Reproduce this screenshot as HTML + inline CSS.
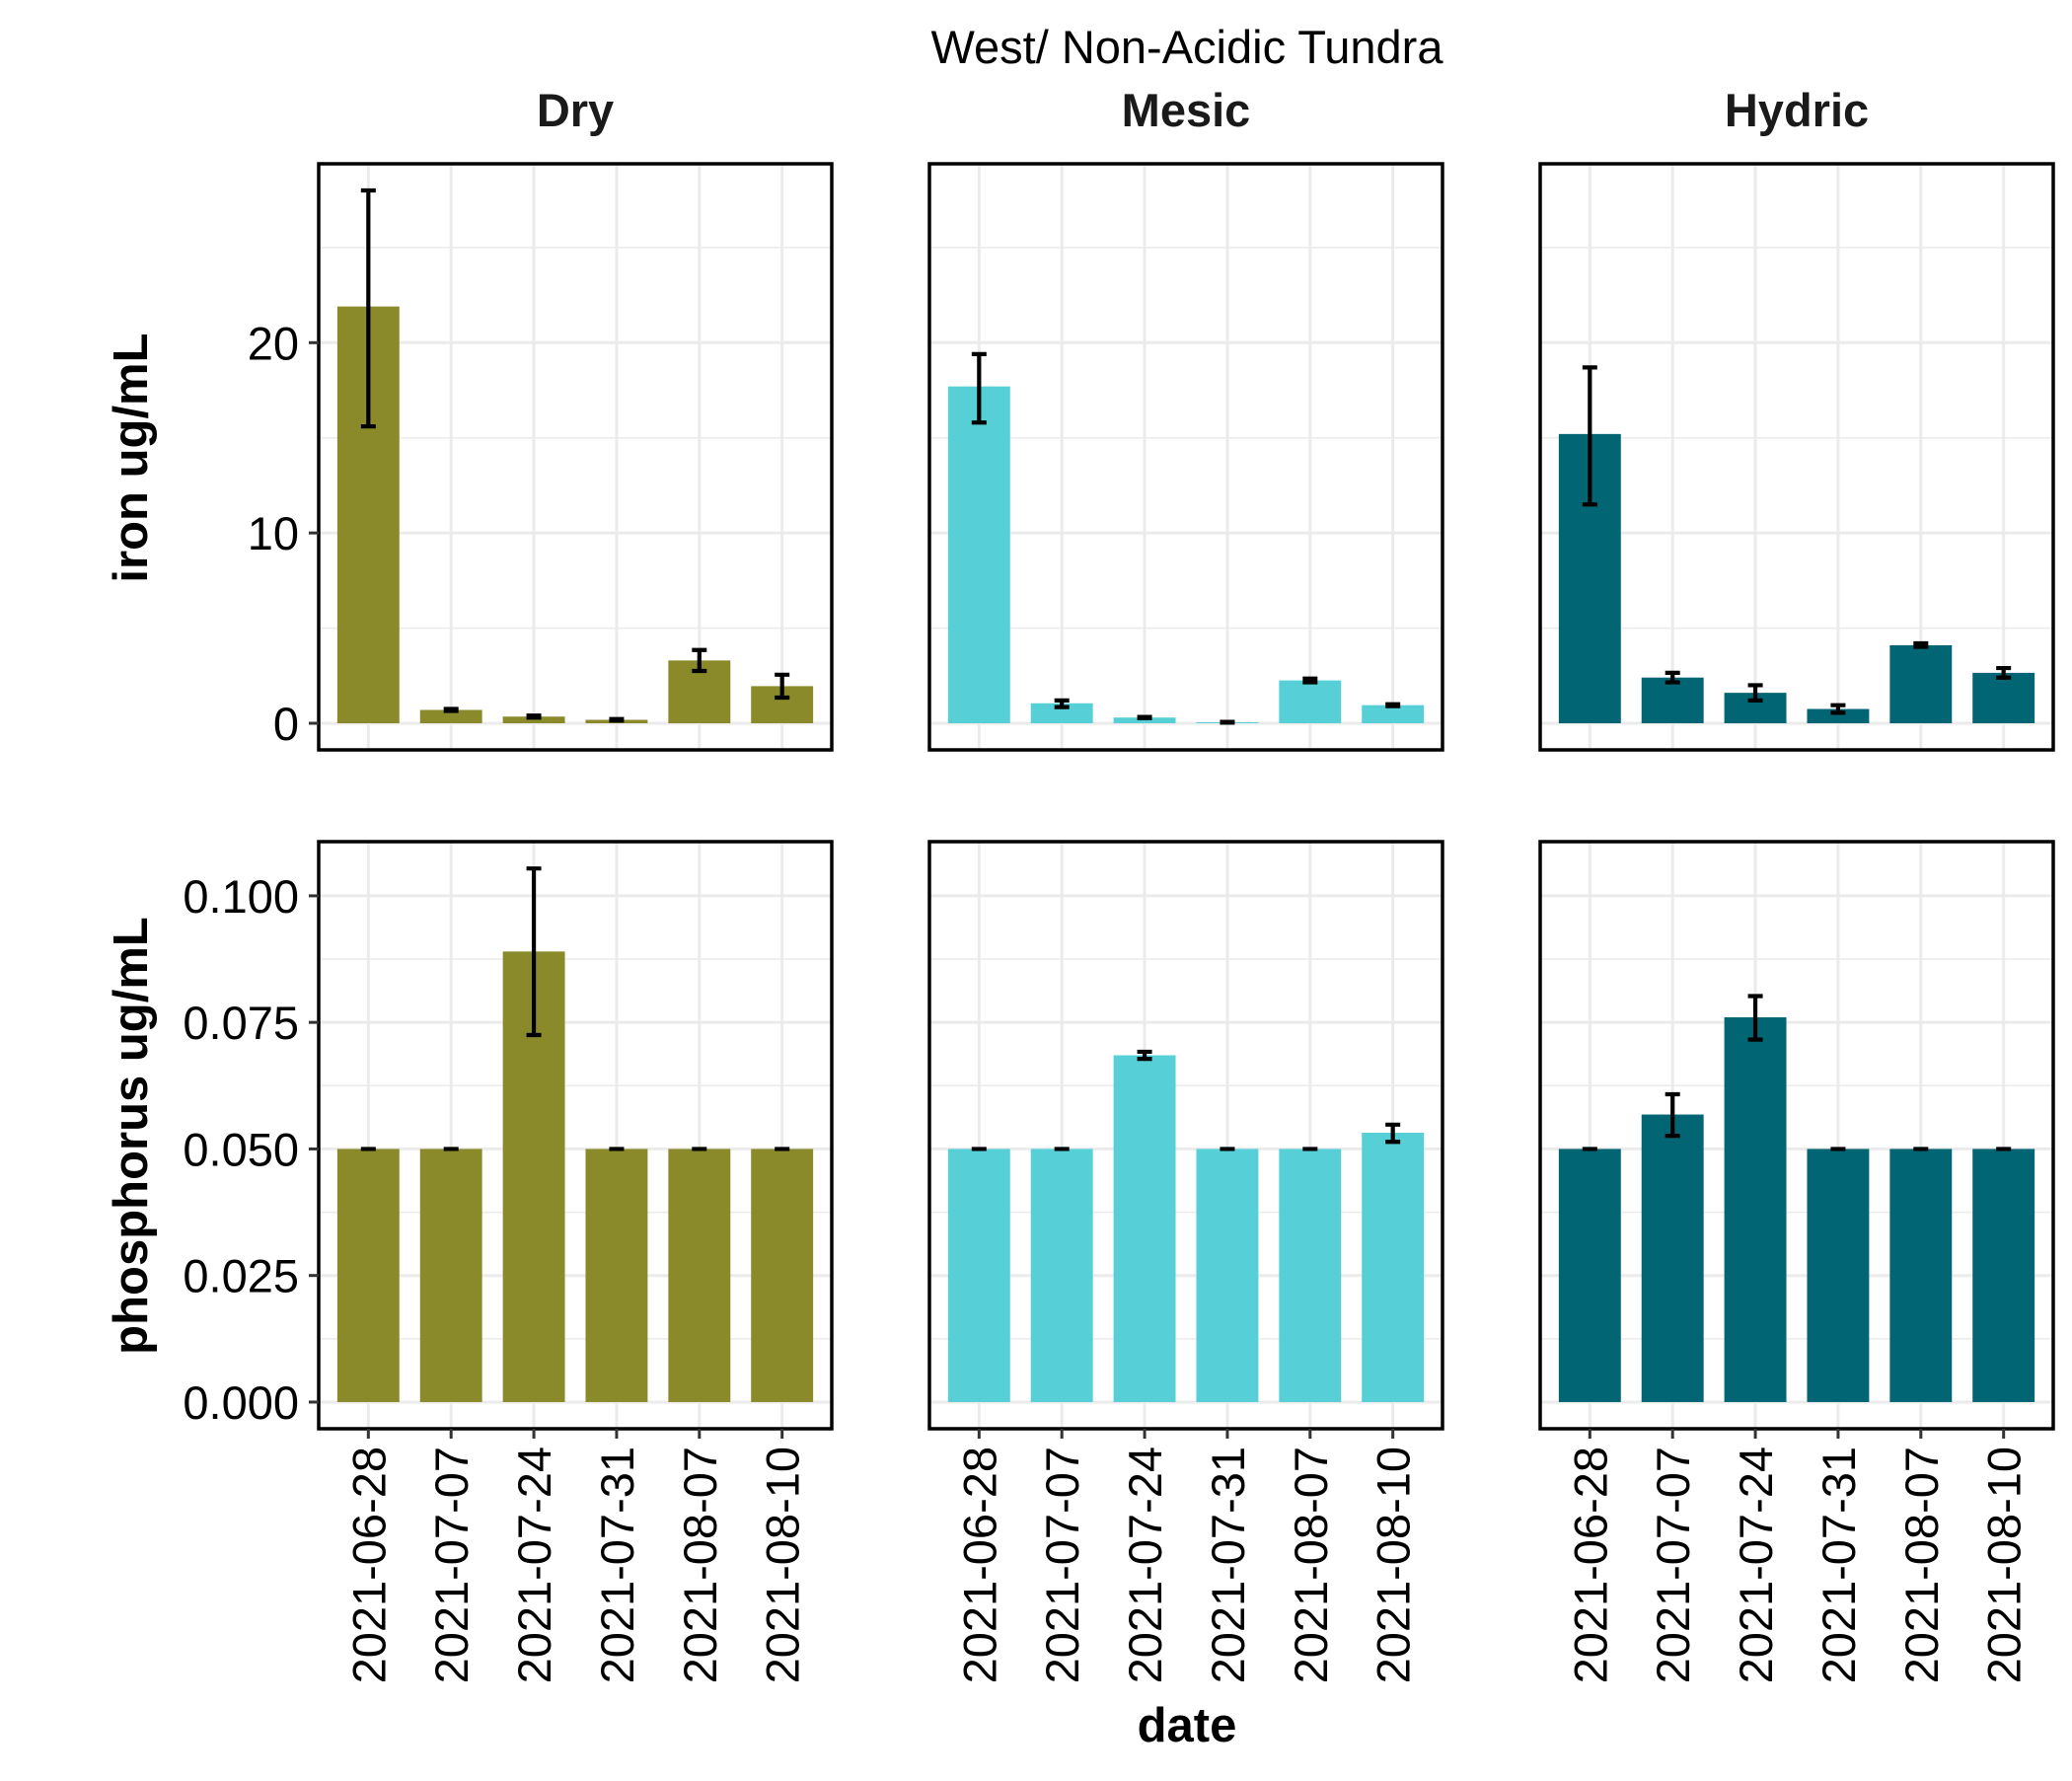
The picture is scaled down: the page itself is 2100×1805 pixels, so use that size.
<!DOCTYPE html>
<html><head><meta charset="utf-8"><style>
body{margin:0;background:#fff}
svg text{font-family:"Liberation Sans",Arial,sans-serif}
</style></head><body>
<svg id="chart" width="2100" height="1800" viewBox="0 0 2100 1800" xmlns="http://www.w3.org/2000/svg">
<rect width="2100" height="1800" fill="#fff"/>
<text x="1203" y="64" font-size="47" text-anchor="middle">West/ Non-Acidic Tundra</text>
<text x="149" y="464" font-size="49" font-weight="bold" text-anchor="middle" transform="rotate(-90 149 464)">iron ug/mL</text>
<text x="149" y="1151" font-size="49" font-weight="bold" text-anchor="middle" transform="rotate(-90 149 1151)">phosphorus ug/mL</text>
<text x="1203" y="1765" font-size="49" font-weight="bold" text-anchor="middle">date</text>
<g id="plots"></g>
</svg>
<script>
const dates = ["2021-06-28","2021-07-07","2021-07-24","2021-07-31","2021-08-07","2021-08-10"];
const facets = ["Dry","Mesic","Hydric"];
const facetColors = ["#8A8A2A","#56CFD7","#026573"];
const ironDry = [21.9,0.7,0.35,0.18,3.3,1.95];
const ironDryLo = [15.6,0.65,0.3,0.14,2.75,1.35];
const ironDryHi = [28.0,0.75,0.4,0.22,3.85,2.55];
const ironMesic = [17.7,1.05,0.3,0.05,2.25,0.95];
const ironMesicLo = [15.8,0.85,0.27,0.03,2.15,0.9];
const ironMesicHi = [19.4,1.2,0.33,0.07,2.35,1.0];
const ironHydric = [15.2,2.4,1.6,0.75,4.1,2.65];
const ironHydricLo = [11.5,2.15,1.2,0.55,4.02,2.4];
const ironHydricHi = [18.7,2.65,2.0,0.95,4.2,2.9];
const phosDry = [0.05,0.05,0.089,0.05,0.05,0.05];
const phosDryLo = [0.05,0.05,0.0725,0.05,0.05,0.05];
const phosDryHi = [0.05,0.05,0.1054,0.05,0.05,0.05];
const phosMesic = [0.05,0.05,0.0685,0.05,0.05,0.0532];
const phosMesicLo = [0.05,0.05,0.0678,0.05,0.05,0.0514];
const phosMesicHi = [0.05,0.05,0.0692,0.05,0.05,0.0548];
const phosHydric = [0.05,0.0568,0.076,0.05,0.05,0.05];
const phosHydricLo = [0.05,0.0526,0.0716,0.05,0.05,0.05];
const phosHydricHi = [0.05,0.0608,0.0802,0.05,0.05,0.05];
const ironTicks = [0,10,20];
const ironTickLabels = ["0","10","20"];
const phosTicks = [0,0.025,0.05,0.075,0.1];
const phosTickLabels = ["0.000","0.025","0.050","0.075","0.100"];

const NS="http://www.w3.org/2000/svg";
const g=document.getElementById('plots');
function el(tag,attrs,parent){const e=document.createElementNS(NS,tag);for(const k in attrs)e.setAttribute(k,attrs[k]);(parent||g).appendChild(e);return e;}
const panelX=[323,942,1561], panelW=520;
const rows=[
 {y:166,h:594,dom:[-1.4,29.4],ticks:ironTicks,labels:ironTickLabels,minor:[5,15,25],name:'iron',
  vals:[ironDry,ironMesic,ironHydric],lo:[ironDryLo,ironMesicLo,ironHydricLo],hi:[ironDryHi,ironMesicHi,ironHydricHi]},
 {y:853,h:595,dom:[-0.00527,0.1107],ticks:phosTicks,labels:phosTickLabels,minor:[0.0125,0.0375,0.0625,0.0875],name:'phosphorus',
  vals:[phosDry,phosMesic,phosHydric],lo:[phosDryLo,phosMesicLo,phosHydricLo],hi:[phosDryHi,phosMesicHi,phosHydricHi]}
];
rows.forEach((r,ri)=>{
 const yS=v=>r.y+r.h-(v-r.dom[0])/(r.dom[1]-r.dom[0])*r.h;
 facets.forEach((f,fi)=>{
  const x0=panelX[fi];
  const step=panelW/(dates.length-1+1.2);
  const xS=i=>x0+step*(0.6+i);
  const pg=el('g',{});
  
  
  r.minor.forEach(t=>{el('line',{x1:x0,x2:x0+panelW,y1:yS(t),y2:yS(t),stroke:'#ebebeb','stroke-width':1.5},pg);});
  r.ticks.forEach(t=>{el('line',{x1:x0,x2:x0+panelW,y1:yS(t),y2:yS(t),stroke:'#ebebeb','stroke-width':3},pg);});
  dates.forEach((d,i)=>{el('line',{x1:xS(i),x2:xS(i),y1:r.y,y2:r.y+r.h,stroke:'#ebebeb','stroke-width':3},pg);});
  const bw=step*0.75;
  dates.forEach((d,i)=>{
   const v=r.vals[fi][i];
   const b=el('rect',{x:xS(i)-bw/2,y:yS(v),width:bw,height:yS(0)-yS(v),fill:facetColors[fi]},pg);
   
   
   const lo=yS(r.lo[fi][i]),hi=yS(r.hi[fi][i]),cw=15;
   const eb=el('path',{d:`M${xS(i)-cw/2},${hi}H${xS(i)+cw/2}M${xS(i)},${hi}V${lo}M${xS(i)-cw/2},${lo}H${xS(i)+cw/2}`,stroke:'#000','stroke-width':4.2,fill:'none'},pg);
   
   
  });
  el('rect',{x:x0,y:r.y,width:panelW,height:r.h,fill:'none',stroke:'#000','stroke-width':3.5},pg);
  if(fi===0){
   r.ticks.forEach((t,k)=>{
    el('line',{x1:x0-10,x2:x0,y1:yS(t),y2:yS(t),stroke:'#333','stroke-width':3},pg);
    const tx=el('text',{x:x0-20,y:yS(t)+17,'font-size':47,'text-anchor':'end',fill:'#000'},pg);
    tx.textContent=r.labels[k];
    
    
   });
  }
  if(ri===0){
   const st=el('text',{x:x0+panelW/2,y:128,'font-size':47,'font-weight':'bold','text-anchor':'middle',fill:'#1a1a1a'},pg);
   st.textContent=f;
   
   
  }
  if(ri===1){
   dates.forEach((d,i)=>{
    el('line',{x1:xS(i),x2:xS(i),y1:r.y+r.h,y2:r.y+r.h+10,stroke:'#333','stroke-width':3},pg);
    const tx=el('text',{x:0,y:0,'font-size':47,'text-anchor':'end',fill:'#000',transform:`translate(${xS(i)+17},${r.y+r.h+18}) rotate(-90)`},pg);
    tx.textContent=d;
    
    
   });
  }
 });
});
</script>
</body></html>
